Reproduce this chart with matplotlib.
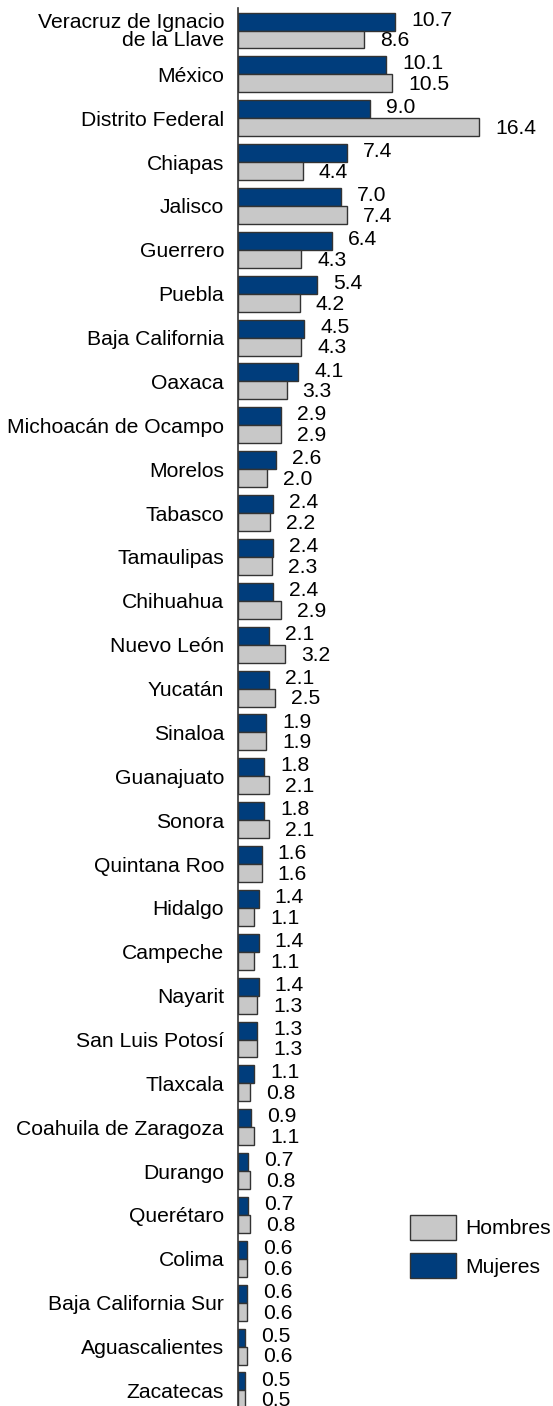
import matplotlib
matplotlib.use("Agg")
import matplotlib.pyplot as plt
from matplotlib.patches import Patch

plt.rcParams['font.family'] = ['Liberation Sans', 'DejaVu Sans']

states = ["Veracruz de Ignacio\nde la Llave", "México", "Distrito Federal", "Chiapas",
          "Jalisco", "Guerrero", "Puebla", "Baja California", "Oaxaca",
          "Michoacán de Ocampo", "Morelos", "Tabasco", "Tamaulipas", "Chihuahua",
          "Nuevo León", "Yucatán", "Sinaloa", "Guanajuato", "Sonora", "Quintana Roo",
          "Hidalgo", "Campeche", "Nayarit", "San Luis Potosí", "Tlaxcala",
          "Coahuila de Zaragoza", "Durango", "Querétaro", "Colima",
          "Baja California Sur", "Aguascalientes", "Zacatecas"]
mujeres = [10.7, 10.1, 9.0, 7.4, 7.0, 6.4, 5.4, 4.5, 4.1, 2.9, 2.6, 2.4, 2.4, 2.4,
           2.1, 2.1, 1.9, 1.8, 1.8, 1.6, 1.4, 1.4, 1.4, 1.3, 1.1, 0.9, 0.7, 0.7,
           0.6, 0.6, 0.5, 0.5]
hombres = [8.6, 10.5, 16.4, 4.4, 7.4, 4.3, 4.2, 4.3, 3.3, 2.9, 2.0, 2.2, 2.3, 2.9,
           3.2, 2.5, 1.9, 2.1, 2.1, 1.6, 1.1, 1.1, 1.3, 1.3, 0.8, 1.1, 0.8, 0.8,
           0.6, 0.6, 0.6, 0.5]

BLUE = "#003D7C"
GRAY = "#C8C8C8"
EDGE = "#333333"

W, H = 553, 1406
fig = plt.figure(figsize=(W / 100, H / 100), dpi=100)
ax_left, ax_top = 238, 8
ax = fig.add_axes([ax_left / W, 0, (W - ax_left) / W, (H - ax_top) / H])

pitch = 43.87
c0 = 30.5
y_top = (ax_top - c0) / pitch
y_bot = (H - c0) / pitch
px_per_unit = 14.7
x_max = (W - ax_left) / px_per_unit

n = len(states)
ys = list(range(n))
bh = 0.41
ax.barh([y - bh / 2 for y in ys], mujeres, height=bh, color=BLUE, edgecolor=EDGE,
        linewidth=1.0, label="Mujeres")
ax.barh([y + bh / 2 for y in ys], hombres, height=bh, color=GRAY, edgecolor=EDGE,
        linewidth=1.0, label="Hombres")

fs = 15.2
for y, m, h in zip(ys, mujeres, hombres):
    ax.annotate(f"{m:.1f}", (m, y - bh / 2), xytext=(11.5, 1), textcoords="offset points",
                va="center", ha="left", fontsize=fs, color="black")
    ax.annotate(f"{h:.1f}", (h, y + bh / 2), xytext=(11.5, -1), textcoords="offset points",
                va="center", ha="left", fontsize=fs, color="black")

ax.set_xlim(0, x_max)
ax.set_ylim(y_bot, y_top)
ax.set_yticks(ys)
ax.set_yticklabels(states, fontsize=fs, linespacing=0.92)
ax.tick_params(axis="y", length=0, pad=10)
ax.set_xticks([])
for s in ["top", "right", "bottom"]:
    ax.spines[s].set_visible(False)
ax.spines["left"].set_color("#333333")
ax.spines["left"].set_linewidth(1.2)

handles = [Patch(facecolor=GRAY, edgecolor=EDGE, linewidth=1.0, label="Hombres"),
           Patch(facecolor=BLUE, edgecolor=EDGE, linewidth=1.0, label="Mujeres")]
leg = fig.legend(handles=handles, loc="upper left",
                 bbox_to_anchor=(410 / W, 1 - 1215 / H), frameon=False,
                 fontsize=fs, handlelength=2.18, handleheight=1.42,
                 labelspacing=0.65, handletextpad=0.42, borderpad=0, borderaxespad=0)

fig.savefig("out.png", dpi=100)
